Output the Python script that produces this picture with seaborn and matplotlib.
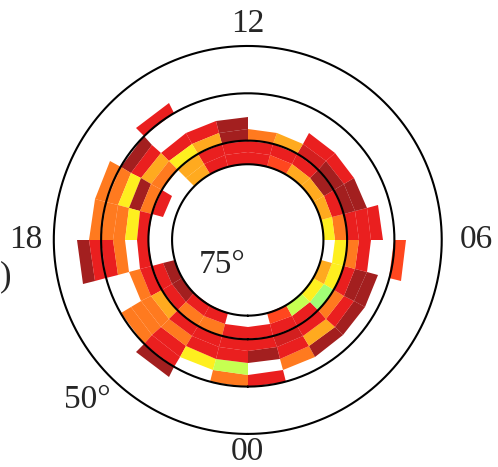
import numpy as np
import matplotlib
matplotlib.use("Agg")
import matplotlib.pyplot as plt
import seaborn as sns

nan = np.nan

# magnetic local time bins (hours) and latitude bins (degrees)
mlt_edges = [0, 1, 2, 3, 4, 5, 6, 7, 8, 9, 10, 11, 12,
             13, 14, 15, 16, 17, 18, 19, 20, 21, 22, 23, 24]
lat_edges = [55.0, 57.5, 60.0, 62.5, 65.0, 67.5, 70.0, 72.5, 75.0]

# cell values, one row per MLT hour, columns from 55-57.5 up to 72.5-75 deg
values_00_05 = [
    [nan, nan, 0.91, nan, 0.98, 0.91, 0.91, nan],
    [nan, nan, nan, 0.80, 0.91, 0.93, 0.91, 0.86],
    [nan, nan, nan, 0.98, 0.74, 0.91, 0.91, 0.58],
    [nan, nan, nan, 0.98, 0.91, 0.80, 0.53, 0.66],
    [nan, nan, nan, 0.98, 0.98, 0.91, 0.66, 0.74],
    [nan, 0.86, nan, nan, 0.91, 0.80, 0.66, nan],
]
values_06_11 = [
    [nan, nan, nan, 0.91, 0.91, 0.91, 0.80, 0.66],
    [nan, nan, nan, nan, 0.98, 0.98, 0.91, 0.74],
    [nan, nan, nan, nan, 0.91, 0.98, 0.98, 0.74],
    [nan, nan, nan, nan, 0.91, 0.93, 0.91, 0.74],
    [nan, nan, nan, nan, nan, 0.74, 0.91, 0.86],
    [nan, nan, nan, nan, nan, 0.80, 0.91, 0.91],
]
values_12_17 = [
    [nan, nan, nan, nan, 0.98, 0.98, 0.91, 0.91],
    [nan, nan, nan, nan, 0.91, 0.74, 0.91, 0.91],
    [nan, 0.91, nan, nan, 0.91, 0.66, 0.74, 0.74],
    [nan, nan, 0.98, 0.91, 0.74, 0.80, nan, nan],
    [nan, 0.80, 0.80, 0.66, 0.98, 0.80, 0.91, nan],
    [nan, 0.80, 0.80, 0.80, 0.66, 0.91, nan, nan],
]
values_18_23 = [
    [0.98, 0.91, 0.91, 0.80, nan, 0.91, nan, nan],
    [nan, nan, nan, nan, 0.80, 0.91, 0.91, 0.98],
    [nan, nan, 0.80, 0.80, 0.80, 0.74, 0.91, 0.98],
    [nan, 0.98, 0.91, 0.91, 0.80, 0.91, 0.80, 0.91],
    [nan, nan, nan, 0.66, 0.91, 0.91, 0.80, 0.91],
    [nan, nan, 0.80, 0.58, 0.91, 0.91, 0.91, nan],
]

circle_lats = [50, 60, 70, 75]
mlt_labels = ["00", "06", "12", "18"]
mlt_label_hours = [0, 6, 12, 18]


def main():
    sns.set_theme(style="white")
    plt.rcParams["font.family"] = ["Liberation Serif", "DejaVu Serif"]

    fig = plt.figure(figsize=(4.98, 4.67), dpi=100)
    ax = fig.add_axes([0.108, 0.0707, 0.779, 0.831], projection="polar")
    ax.set_theta_zero_location("S")
    ax.set_theta_direction(1)

    grid = np.array(values_00_05 + values_06_11 + values_12_17 + values_18_23)
    theta = np.deg2rad(np.array(mlt_edges) * 15.0)
    colat = 90.0 - np.array(lat_edges)
    cmap = matplotlib.colormaps["jet"]
    ax.pcolormesh(theta, colat, np.ma.masked_invalid(grid.T), cmap=cmap,
                  vmin=0.0, vmax=1.0, alpha=0.88, shading="flat",
                  linewidth=0, antialiased=True)

    # latitude circles
    t = np.linspace(0, 2 * np.pi, 400)
    for lat in circle_lats:
        ax.plot(t, np.full_like(t, 90.0 - lat), color="black", lw=1.5,
                clip_on=False)

    # small offset at the pole, the circles are not quite linear in colatitude
    ax.set_ylim(-1, 40)
    ax.grid(False)
    ax.set_xticks([])
    ax.set_yticks([])
    for sp in ax.spines.values():
        sp.set_visible(False)
    ax.patch.set_visible(False)

    # MLT labels
    label_r = [43.7, 47.4, 44.6, 45.9]
    for lab, hr, r in zip(mlt_labels, mlt_label_hours, label_r):
        ax.text(np.deg2rad(hr * 15.0), r, lab, fontsize=24,
                ha="center", va="center", clip_on=False)

    ax.text(0.433, 0.436, "75°", transform=ax.transAxes, fontsize=24,
            ha="center", va="center")
    ax.text(0.0876, 0.0876, "50°", transform=ax.transAxes, fontsize=24,
            ha="center", va="center")

    # closing bracket of the panel label, at the left edge
    fig.text(0.0, 0.407, ")", fontsize=25, ha="left", va="center")

    fig.savefig("out.png", dpi=100)


if __name__ == "__main__":
    main()
